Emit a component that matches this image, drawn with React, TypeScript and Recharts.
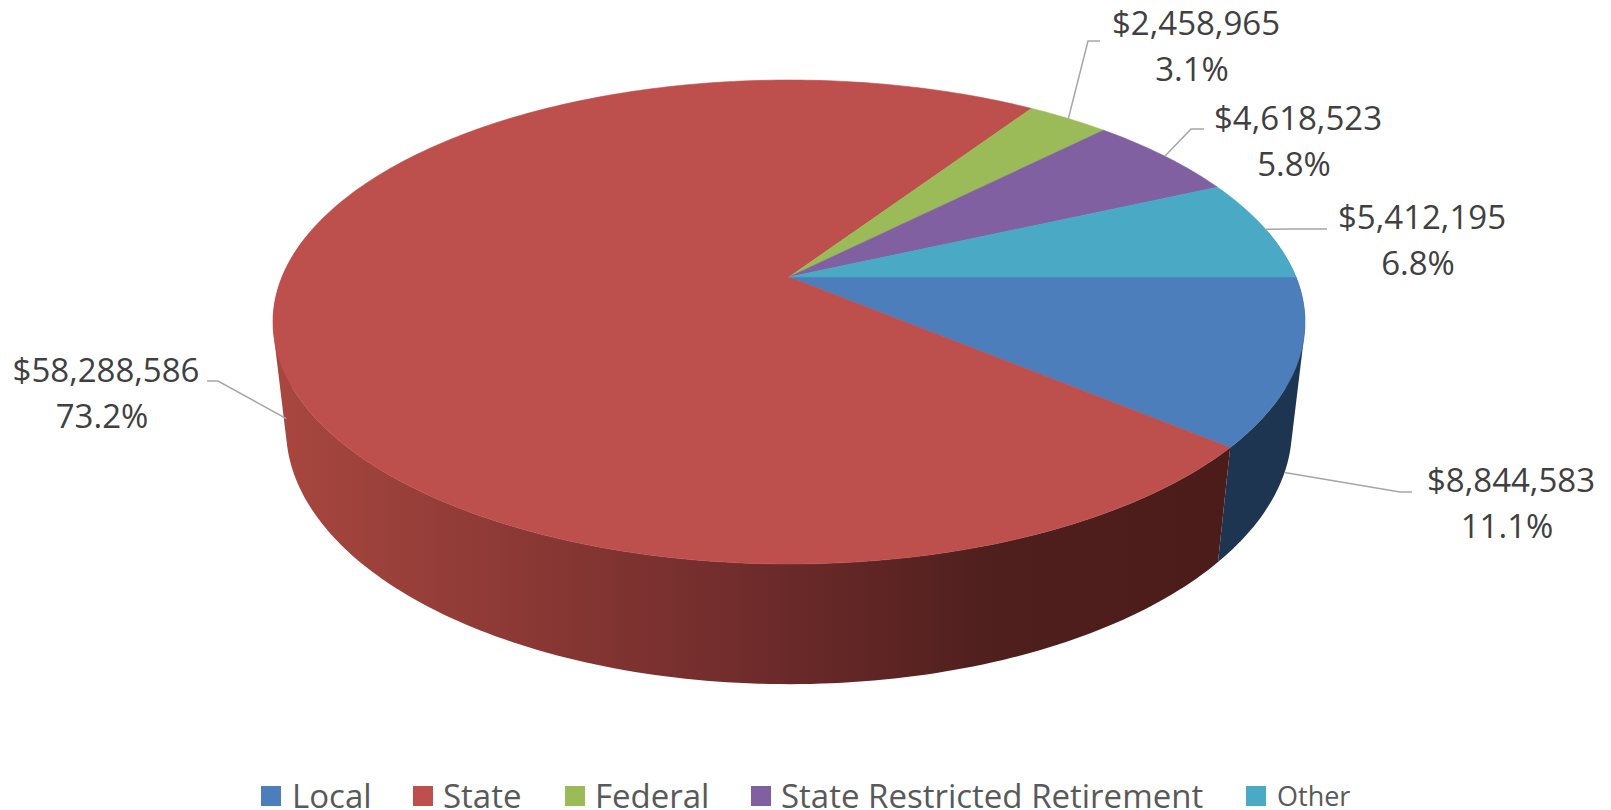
import React from "react";
import { PieChart, Pie, Cell, Legend } from "recharts";

const categories = ["Local", "State", "Federal", "State Restricted Retirement", "Other"];
const amounts = [8844583, 58288586, 2458965, 4618523, 5412195];
const colors = ["#4c7ebb", "#bd4f4c", "#9bbb59", "#8060a0", "#4aa9c4"];
const wallFills = ["#1d3551", "url(#stateWall)", "#4f6030", "#403050", "#255565"];

// elbow of the leader line and centre of the two text lines, per slice
const labelLayout = [
  { elbow: [1400, 492], end: [1412, 492], x: 1511, y: 479 },
  { elbow: [218, 381], end: [207, 381], x: 106, y: 369 },
  { elbow: [1088, 41], end: [1100, 41], x: 1196, y: 22 },
  { elbow: [1191, 129], end: [1204, 129], x: 1298, y: 117 },
  { elbow: [1290, 229], end: [1327, 229], x: 1422, y: 216 },
];
const legendLayout = [
  { box: 261, text: 292, size: 33 },
  { box: 413, text: 443, size: 33 },
  { box: 565, text: 595, size: 33 },
  { box: 751, text: 781, size: 33 },
  { box: 1246, text: 1277, size: 27 },
];

const rows = categories.map((name, i) => ({ name, value: amounts[i] }));

const FONT = "'Open Sans', sans-serif";
const PERSPECTIVE = 0.186;
const SQUASH = 233.6 / 507;
const DEPTH_W = 0.025;
const DEPTH_Y = 108 / 507;

// tilted disc with perspective, z = 0 is the top face and z = 1 the bottom rim
function project(cx: number, cy: number, r: number, angle: number, z = 0) {
  const rad = (angle * Math.PI) / 180;
  const u = Math.cos(rad);
  const v = -Math.sin(rad);
  const w = 1 - PERSPECTIVE * v + DEPTH_W * z;
  return { x: cx + (r * u) / w, y: cy + (r * (SQUASH * v + DEPTH_Y * z)) / w, v };
}

function angleSteps(start: number, end: number) {
  const n = Math.max(2, Math.ceil(Math.abs(end - start)));
  return Array.from({ length: n + 1 }, (_, i) => start + ((end - start) * i) / n);
}

function TopFace(props: any) {
  const { cx, cy, outerRadius, startAngle, endAngle, fill } = props;
  const pts = angleSteps(startAngle, endAngle).map((a) => project(cx, cy, outerRadius, a));
  const d = `M${cx},${cy}` + pts.map((p) => `L${p.x},${p.y}`).join("") + "Z";
  return <path d={d} fill={fill} stroke={fill} strokeWidth={0.6} />;
}

// one path of same-wound quads, so the wall folds at its edges without seams
function WallFace(props: any) {
  const { cx, cy, outerRadius, startAngle, endAngle, fill } = props;
  const steps = angleSteps(startAngle, endAngle);
  let d = "";
  for (let i = 0; i < steps.length - 1; i++) {
    const a = project(cx, cy, outerRadius, steps[i]);
    const b = project(cx, cy, outerRadius, steps[i + 1]);
    if (a.v < -0.2 && b.v < -0.2) continue;
    const c = project(cx, cy, outerRadius, steps[i + 1], 1);
    const e = project(cx, cy, outerRadius, steps[i], 1);
    const quad = [a, b, c, e];
    const area = quad.reduce((sum, p, j) => {
      const q = quad[(j + 1) % 4];
      return sum + p.x * q.y - q.x * p.y;
    }, 0);
    if (area < 0) quad.reverse();
    d += "M" + quad.map((p) => `${p.x},${p.y}`).join("L") + "Z";
  }
  return d ? <path d={d} fill={fill} fillRule="nonzero" /> : null;
}

function SliceLabel(props: any) {
  const { cx, cy, outerRadius, midAngle, value, percent, index } = props;
  const spot = labelLayout[index];
  const front = Math.sin((midAngle * Math.PI) / 180) < 0;
  const start = project(cx, cy, outerRadius, midAngle, front ? 1 : 0);
  const line = `${start.x},${start.y} ${spot.elbow[0]},${spot.elbow[1]} ${spot.end[0]},${spot.end[1]}`;
  const textProps = { textAnchor: "middle", fontFamily: FONT, fontSize: 33, fill: "#404040" } as const;
  return (
    <g>
      <polyline points={line} fill="none" stroke="#a6a6a6" strokeWidth={1.5} />
      <text {...textProps} x={spot.x} y={spot.y} dominantBaseline="central">
        {"$" + value.toLocaleString("en-US")}
      </text>
      <text {...textProps} x={spot.x - 4} y={spot.y + 46} dominantBaseline="central">
        {(percent * 100).toFixed(1) + "%"}
      </text>
    </g>
  );
}

function LegendRow(props: any) {
  const items = (props.payload || []).filter((p: any) => p.type !== "none");
  return (
    <svg width={1611} height={50} style={{ display: "block" }}>
      {items.map((item: any, i: number) => (
        <g key={item.value}>
          <rect x={legendLayout[i].box} y={26} width={20} height={20} fill={item.color} />
          <text
            x={legendLayout[i].text}
            y={35}
            dominantBaseline="central"
            fontFamily={FONT}
            fontSize={legendLayout[i].size}
            fill="#595959"
          >
            {item.value}
          </text>
        </g>
      ))}
    </svg>
  );
}

export default function App() {
  return (
    <div style={{ position: "absolute", left: 0, top: 0, width: 1611, height: 810, background: "#fff" }}>
      <PieChart width={1611} height={810} margin={{ top: 0, right: 0, bottom: 0, left: 0 }}>
        <defs>
          <linearGradient id="stateWall" gradientUnits="userSpaceOnUse" x1={275} y1={0} x2={1225} y2={0}>
            <stop offset="0%" stopColor="#a8473f" />
            <stop offset="25%" stopColor="#8c3935" />
            <stop offset="53%" stopColor="#6c2a2a" />
            <stop offset="76%" stopColor="#4e1f1d" />
            <stop offset="100%" stopColor="#4b1c1a" />
          </linearGradient>
        </defs>
        <Pie
          data={rows}
          dataKey="value"
          nameKey="name"
          cx={789}
          cy={277}
          innerRadius={0}
          outerRadius={507}
          startAngle={0}
          endAngle={-360}
          legendType="none"
          shape={WallFace}
          inactiveShape={WallFace}
          isAnimationActive={false}
        >
          {rows.map((r, i) => (
            <Cell key={r.name} fill={wallFills[i]} />
          ))}
        </Pie>
        <Pie
          data={rows}
          dataKey="value"
          nameKey="name"
          cx={789}
          cy={277}
          innerRadius={0}
          outerRadius={507}
          startAngle={0}
          endAngle={-360}
          shape={TopFace}
          inactiveShape={TopFace}
          label={SliceLabel}
          labelLine={false}
          isAnimationActive={false}
        >
          {rows.map((r, i) => (
            <Cell key={r.name} fill={colors[i]} />
          ))}
        </Pie>
        <Legend content={LegendRow} itemSorter={null} wrapperStyle={{ left: 0, top: 760, width: 1611 }} />
      </PieChart>
    </div>
  );
}
